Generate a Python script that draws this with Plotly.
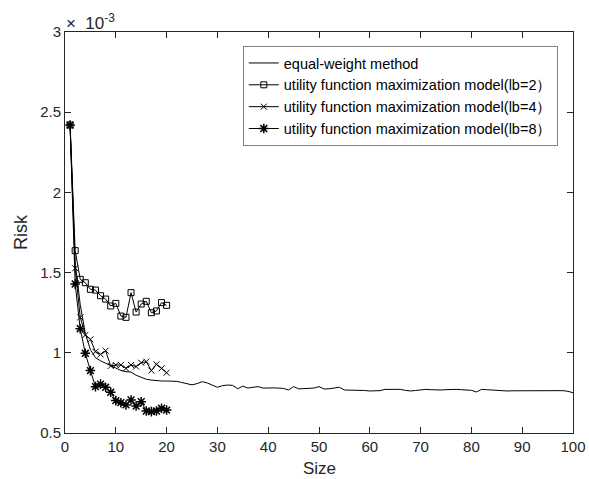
import plotly.graph_objects as go

# values in units of 1e-3
size_eq = list(range(1, 101))
risk_eq = [2.42, 1.56, 1.30, 1.12, 1.02, 0.970, 0.950, 0.935, 0.915, 0.900,
           0.890, 0.882, 0.880, 0.860, 0.845, 0.835, 0.830, 0.826, 0.824, 0.824,
           0.824, 0.822, 0.815, 0.808, 0.800, 0.808, 0.820, 0.812, 0.798, 0.785,
           0.795, 0.799, 0.797, 0.776, 0.792, 0.780, 0.785, 0.789, 0.780, 0.782,
           0.781, 0.780, 0.778, 0.768, 0.789, 0.775, 0.778, 0.781, 0.780, 0.789,
           0.774, 0.776, 0.779, 0.785, 0.768, 0.768, 0.768, 0.767, 0.765, 0.762,
           0.763, 0.764, 0.772, 0.772, 0.772, 0.772, 0.766, 0.762, 0.765, 0.770,
           0.772, 0.770, 0.768, 0.768, 0.770, 0.772, 0.772, 0.770, 0.768, 0.766,
           0.756, 0.772, 0.770, 0.768, 0.764, 0.762, 0.762, 0.763, 0.763, 0.762,
           0.764, 0.766, 0.766, 0.764, 0.764, 0.766, 0.765, 0.764, 0.760, 0.751]

size_ut = list(range(1, 21))
risk_lb2 = [2.42, 1.637, 1.458, 1.437, 1.396, 1.391, 1.356, 1.335, 1.292, 1.308,
            1.229, 1.221, 1.375, 1.254, 1.304, 1.321, 1.250, 1.261, 1.313, 1.296]
risk_lb4 = [2.42, 1.527, 1.221, 1.111, 1.084, 1.007, 0.990, 1.013, 0.918, 0.924,
            0.924, 0.903, 0.924, 0.914, 0.938, 0.945, 0.889, 0.928, 0.903, 0.876]
risk_lb8 = [2.42, 1.429, 1.150, 0.997, 0.889, 0.789, 0.805, 0.785, 0.754, 0.702,
            0.689, 0.675, 0.706, 0.668, 0.695, 0.637, 0.633, 0.637, 0.654, 0.643]

names = ["equal-weight method",
         "utility function maximization model(lb=2）",
         "utility function maximization model(lb=4）",
         "utility function maximization model(lb=8）"]

x_ticks = list(range(0, 101, 10))
y_ticks = [0.5, 1, 1.5, 2, 2.5, 3]
y_ticklabels = ["0.5", "1", "1.5", "2", "2.5", "3"]

ink = "#262626"
font_fam = "Liberation Sans, Arial, sans-serif"
fig = go.Figure()
fig.add_trace(go.Scatter(x=size_eq, y=risk_eq, mode="lines", name=names[0],
                         line=dict(color="black", width=1)))
fig.add_trace(go.Scatter(x=size_ut, y=risk_lb2, mode="lines+markers", name=names[1],
                         line=dict(color="black", width=1),
                         marker=dict(symbol="square-open", size=6, color="black",
                                     line=dict(width=1, color="black"))))
fig.add_trace(go.Scatter(x=size_ut, y=risk_lb4, mode="lines+markers", name=names[2],
                         line=dict(color="black", width=1),
                         marker=dict(symbol="x-thin", size=6, color="black",
                                     line=dict(width=1, color="black"))))
fig.add_trace(go.Scatter(x=size_ut, y=risk_lb8, mode="lines+markers", name=names[3],
                         line=dict(color="black", width=1),
                         marker=dict(symbol="asterisk", size=8, color="black",
                                     line=dict(width=1.5, color="black"))))

axis_common = dict(showline=True, linecolor=ink, linewidth=1, mirror="ticks",
                   ticks="inside", ticklen=6, tickcolor=ink, showgrid=False,
                   zeroline=False, automargin=False,
                   tickfont=dict(size=15, color=ink, family=font_fam))
fig.update_xaxes(range=[0, 100], tickvals=x_ticks, **axis_common)
fig.update_yaxes(range=[0.5, 3], tickvals=y_ticks, ticktext=y_ticklabels, **axis_common,
                 title=dict(text="Risk", font=dict(size=18, color=ink, family=font_fam),
                            standoff=7))

fig.add_annotation(x=0.5, y=0, xref="paper", yref="paper", xanchor="center",
                   yanchor="top", text="Size", showarrow=False,
                   font=dict(size=17, color=ink, family=font_fam), yshift=-24)

fig.add_annotation(x=0, y=1, xref="paper", yref="paper", xanchor="left",
                   yanchor="bottom", text="×  10<sup>-3</sup>", showarrow=False,
                   font=dict(size=17, color=ink, family=font_fam), xshift=-1, yshift=-3)

fig.update_layout(
    template="none",
    width=589, height=479,
    margin=dict(l=65, r=16, t=32, b=46, pad=0),
    paper_bgcolor="white", plot_bgcolor="white",
    font=dict(family=font_fam, color=ink),
    showlegend=True,
    legend=dict(x=0.35, y=0.965, xanchor="left", yanchor="top",
                bgcolor="white", bordercolor="#808080", borderwidth=1,
                font=dict(size=14.5, color="black", family=font_fam),
                tracegroupgap=0, itemwidth=30),
)

fig.write_html("out.html", config={"displayModeBar": False},
               post_script="document.body.style.margin='0';document.body.style.overflow='hidden';")
